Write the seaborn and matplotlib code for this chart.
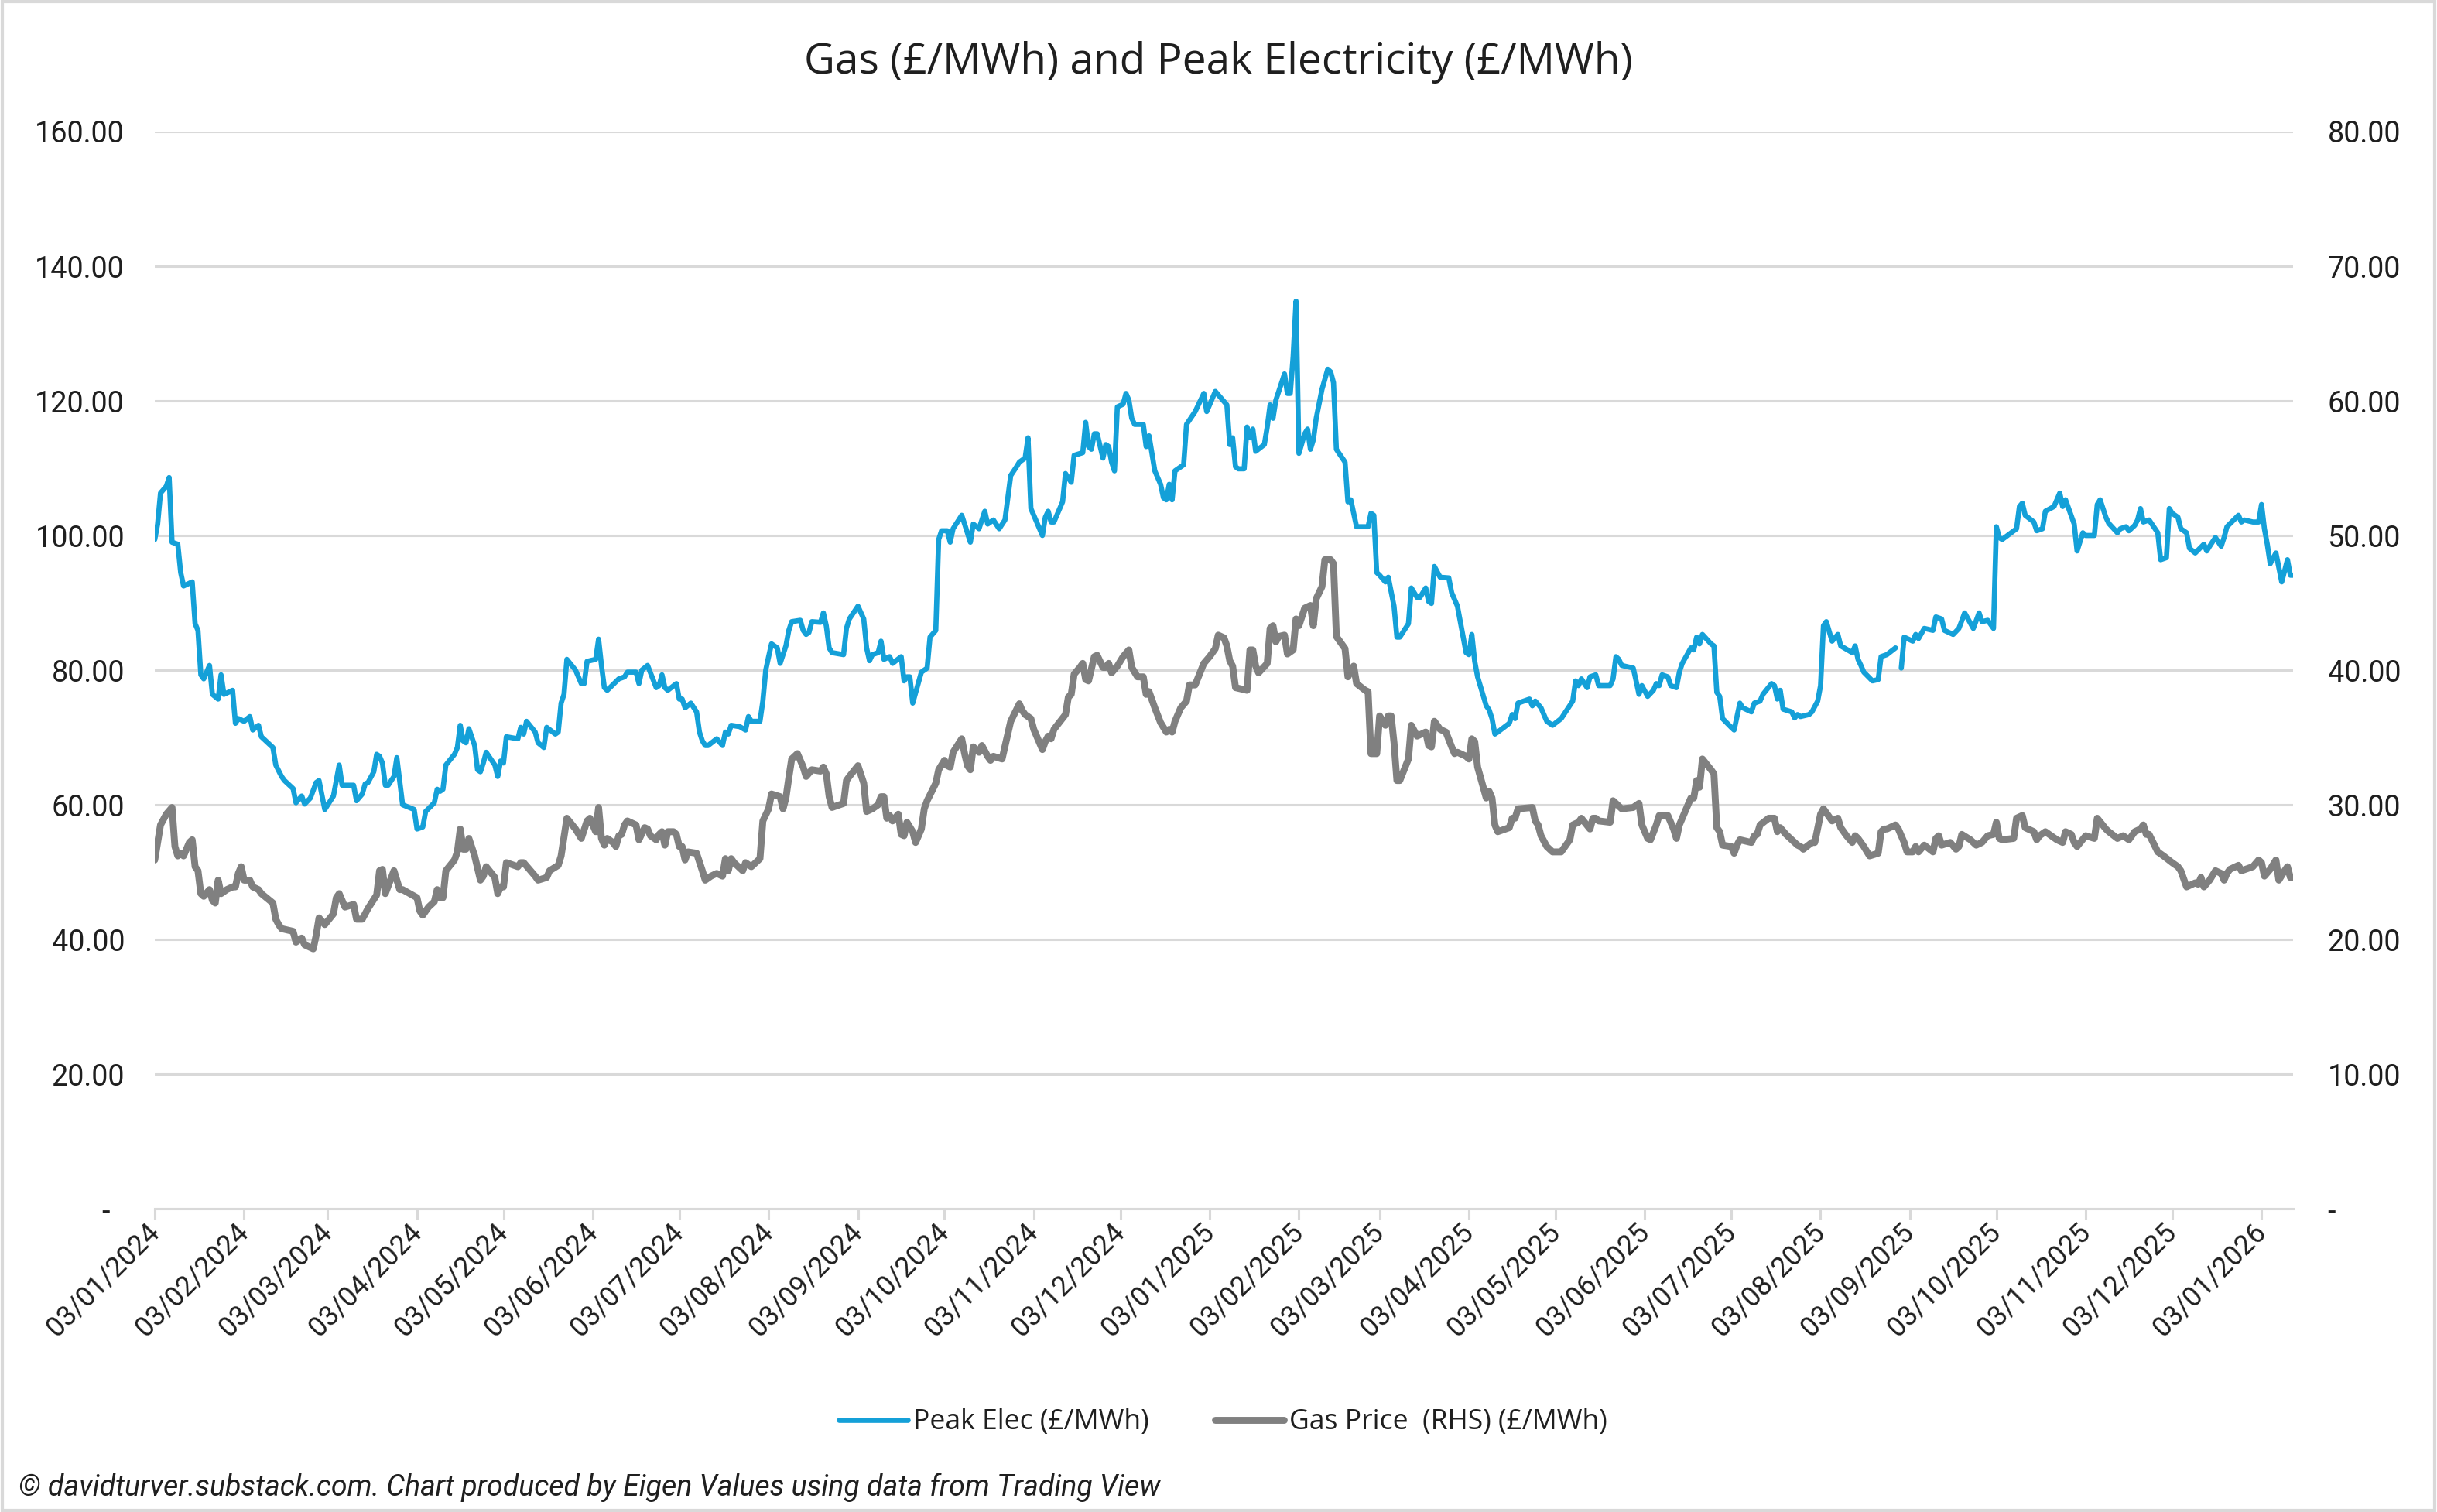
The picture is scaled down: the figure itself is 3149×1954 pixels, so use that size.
import pandas as pd
import matplotlib
matplotlib.use("Agg")
import matplotlib.pyplot as plt
import matplotlib.dates as mdates
from matplotlib.lines import Line2D
from matplotlib.patches import Rectangle
from matplotlib.ticker import FuncFormatter, MultipleLocator
import seaborn as sns

nan = float("nan")

# Series start date; days below are counted from it
start_date = "2024-01-03"

# Peak electricity (£/MWh) - left axis
elec_days = [
    0, 1, 2, 4, 5, 6, 8, 9, 10, 13, 14, 15, 16, 17, 19, 20, 22, 23, 24, 27,
    28, 29, 31, 33, 34, 36, 37, 41, 42, 44, 45, 48, 49, 51, 52, 54, 56, 57, 59, 62,
    64, 65, 69, 70, 72, 73,
    74, 76, 77, 78, 79, 80, 81, 83, 84, 86, 90, 91, 93, 94, 97, 98, 99, 100, 101, 104,
    105, 106, 107, 108, 109, 111, 112, 113, 114, 115, 118, 119, 120, 121, 122, 126, 127, 128, 129, 132,
    133, 135, 136, 139, 140, 141, 142, 143, 146, 148, 149, 150,
    153, 154, 155, 156, 157, 161, 163, 164, 167, 168, 169, 171, 174, 175, 176, 177, 178, 181, 182, 183,
    184, 186, 188, 189, 190, 191, 192, 195, 197, 198, 199, 200, 203, 205, 206, 207, 210, 211, 212, 213,
    214, 216, 217, 219, 220, 221, 224, 225,
    226, 227, 228, 231, 232, 233, 234, 235, 239, 240, 241, 244, 246, 247, 248, 249, 251, 252, 253, 255,
    256, 259, 260, 261, 262, 263, 266, 268, 269, 271, 272, 273, 275, 276, 277, 280, 281, 283, 284, 286,
    288, 289, 291, 293, 295, 297, 299, 300,
    302, 303, 304, 305, 308, 309, 310, 311, 312, 315, 316, 318, 319, 322, 323, 324, 325, 326, 327, 329,
    330, 331, 332, 333, 334, 336, 337, 338, 339, 340, 343, 344, 345, 347, 349, 350, 351, 352, 353, 354,
    357, 358, 361, 364, 365, 368, 372, 373, 374, 375,
    376, 378, 379, 380, 381, 382, 385, 386, 387, 388, 389, 392, 393, 394, 395, 396, 397, 399, 400, 401,
    402, 403, 405, 407, 408, 409, 410, 413, 414, 415, 417, 421, 422, 423, 424, 425, 427, 428, 430, 431,
    432, 435, 436, 438, 439, 441, 442, 443, 444, 446, 449, 450,
    452, 455, 456, 457, 458, 459, 462, 463, 464, 465, 466, 470, 471, 472, 473, 477, 478, 479, 481, 483,
    485, 488, 492, 493, 494, 495, 497, 498, 500, 501, 505, 506, 507, 508, 509, 513, 514, 515, 516, 518,
    520, 521, 522, 523, 525,
    526, 528, 529, 530, 533, 534, 535, 536, 537, 540, 541, 542, 543, 544, 547, 548, 550, 551, 554, 555,
    557, 558, 561, 562, 563, 564, 565, 568, 569, 570, 571, 574, 575, 577, 578, 579, 580, 582, 584, 585,
    589, 590, 591, 592, 593, 596, 598, 599,
    601, 604, 605, 606, 607, 610, 611, 612, 614, 617, 618, 620, 621, 624, 626, 628, 631, 633, 634, 636,
    638, 639, 640, 641, 646, 647, 648, 649, 652, 653, 655, 656, 659, 661, 662, 663, 666, 667, 669, 670,
    673, 674,
    675, 677, 678, 681, 682, 684, 685, 687, 688, 689, 690, 692, 695, 696, 698, 699, 700, 702, 703, 705,
    706, 708, 711, 712, 713, 715, 717, 718, 719, 723, 724, 725, 728, 730, 731, 732, 733, 734, 736, 738,
    740, 741, 742,
]
elec_values = [
    99.4, 101.7, 106.3, 107.3, 108.6, 99.0, 98.7, 94.5, 92.5, 93.1, 86.9, 85.9, 79.3, 78.7, 80.7, 76.4, 75.7, 79.3, 76.4, 77.0,
    72.1, 72.8, 72.4, 73.1, 71.1, 71.8, 70.1, 68.5, 65.9, 64.2, 63.6, 62.4, 60.3, 61.3, 60.1, 61.0, 63.3, 63.6, 59.3, 61.3,
    65.9, 62.9, 62.9, 60.6, 61.6, 63.1,
    63.3, 64.9, 67.5, 67.2, 66.2, 62.9, 62.9, 64.2, 67.0, 60.0, 59.3, 56.4, 56.7, 59.0, 60.3, 62.3, 62.0, 62.3, 65.9, 67.5,
    68.5, 71.8, 69.5, 69.2, 71.3, 68.8, 65.2, 64.9, 66.2, 67.8, 65.9, 64.2, 66.5, 66.2, 70.1, 69.8, 71.5, 70.5, 72.4, 70.8,
    69.2, 68.5, 71.5, 70.5, 70.8, 75.1, 76.4, 81.6, 80.0, 78.0, 78.0, 81.3,
    81.6, 84.6, 80.7, 77.4, 77.0, 78.7, 79.0, 79.7, 79.7, 78.0, 80.0, 80.7, 77.4, 77.7, 79.3, 77.4, 77.0, 78.0, 75.7, 75.7,
    74.4, 75.1, 73.8, 70.8, 69.5, 68.8, 68.8, 69.8, 68.8, 70.8, 70.5, 71.8, 71.6, 71.1, 73.1, 72.4, 72.4, 75.4, 80.0, 82.0,
    83.9, 83.3, 81.0, 83.6, 85.9, 87.2, 87.4, 85.9,
    85.3, 85.6, 87.2, 87.1, 88.5, 86.6, 83.3, 82.6, 82.3, 86.2, 87.6, 89.5, 87.6, 83.3, 81.4, 82.3, 82.6, 84.3, 81.6, 82.0,
    81.0, 82.0, 78.4, 79.0, 79.0, 75.1, 79.7, 80.3, 84.9, 85.9, 99.4, 100.7, 100.7, 99.0, 101.0, 103.0, 101.7, 99.0, 101.7, 101.0,
    103.6, 101.7, 102.3, 101.0, 102.3, 108.9, 110.2, 110.9,
    111.5, 114.5, 104.0, 103.0, 100.0, 102.7, 103.6, 102.0, 102.0, 105.0, 109.2, 107.9, 111.9, 112.3, 116.8, 113.2, 112.8, 115.1, 115.1, 111.5,
    113.5, 113.2, 110.9, 109.6, 119.1, 119.5, 121.1, 120.1, 117.4, 116.5, 116.5, 113.2, 114.8, 109.6, 107.6, 105.6, 105.3, 107.6, 105.3, 109.6,
    110.5, 116.5, 118.4, 121.1, 118.4, 121.4, 119.4, 113.5, 114.5, 110.2,
    109.9, 109.9, 116.1, 114.5, 115.8, 112.5, 113.5, 116.1, 119.4, 117.4, 120.1, 124.0, 121.1, 121.1, 126.6, 134.8, 112.2, 115.1, 115.8, 112.8,
    114.2, 117.4, 121.7, 124.7, 124.3, 122.7, 112.8, 110.9, 105.0, 105.3, 101.3, 101.3, 103.3, 103.0, 94.5, 94.1, 93.1, 93.8, 89.5, 84.9,
    84.9, 86.9, 92.2, 90.8, 90.8, 92.2, 90.2, 89.9, 95.4, 93.8, 93.7, 91.5,
    89.5, 82.6, 82.3, 85.3, 81.3, 79.0, 74.7, 74.1, 72.8, 70.5, 70.8, 72.1, 73.4, 72.8, 75.1, 75.7, 74.7, 75.4, 74.4, 72.4,
    71.8, 72.8, 75.4, 78.4, 77.7, 78.7, 77.4, 79.0, 79.3, 77.7, 77.7, 78.7, 82.0, 81.6, 80.7, 80.3, 78.4, 76.4, 77.7, 76.1,
    77.0, 78.0, 77.7, 79.3, 79.0,
    77.7, 77.4, 79.7, 81.0, 83.3, 83.0, 84.9, 83.9, 85.3, 83.9, 83.6, 76.7, 76.1, 72.8, 71.5, 71.1, 75.1, 74.4, 73.8, 75.1,
    75.4, 76.4, 78.0, 77.7, 75.7, 77.0, 74.2, 73.8, 72.9, 73.4, 73.1, 73.4, 73.8, 75.4, 77.7, 86.6, 87.2, 84.3, 85.3, 83.6,
    82.6, 83.6, 81.6, 80.7, 79.7, 78.4, 78.6, 82.0,
    82.3, 83.3, nan, 80.3, 84.9, 84.3, 85.3, 84.7, 86.2, 85.9, 87.9, 87.6, 85.9, 85.3, 86.2, 88.5, 86.2, 88.5, 87.2, 87.4,
    86.2, 101.3, 99.7, 99.4, 101.0, 104.3, 104.8, 103.0, 102.0, 100.7, 101.0, 103.6, 104.3, 106.3, 104.3, 105.3, 101.7, 97.7, 100.4, 100.0,
    100.0, 104.6,
    105.3, 102.7, 101.8, 100.4, 101.0, 101.3, 100.7, 101.5, 102.3, 104.0, 102.0, 102.3, 100.4, 96.4, 96.7, 104.0, 103.3, 102.7, 101.0, 100.4,
    98.1, 97.4, 98.7, 97.7, 98.4, 99.7, 98.4, 99.7, 101.3, 103.0, 102.0, 102.3, 102.0, 102.0, 104.6, 101.0, 98.7, 95.8, 97.4, 93.1,
    96.4, 94.1, 94.1,
]

# Gas price (£/MWh) - right axis
gas_days = [
    0, 1, 2, 4, 6, 7, 8, 9, 10, 12, 13, 14, 15, 16, 17, 19, 20, 21, 22, 23,
    25, 27, 28, 29, 30, 31, 33, 34, 36, 37, 41, 42, 43, 44, 48, 49, 51, 52, 55, 56,
    57, 59, 62, 63, 64, 66, 69, 70, 72,
    74, 77, 78, 79, 80, 83, 85, 86, 91, 92, 93, 95, 97, 98, 99, 100, 101, 104, 105, 106,
    107, 108, 109, 111, 113, 114, 115, 118, 119, 120, 121, 122, 126, 127, 128, 132, 133, 136, 137, 140,
    141, 143, 146, 148, 150,
    151, 153, 154, 155, 156, 157, 159, 160, 161, 162, 163, 164, 167, 168, 170, 171, 172, 174, 175, 176,
    177, 178, 180, 181, 182, 183, 184, 185, 188, 190, 191, 193, 195, 197, 198, 199, 200, 201, 204, 205,
    207, 210, 211, 213, 214, 217, 218, 219, 220, 221, 223, 225,
    226, 228, 231, 232, 233, 234, 235, 239, 240, 241, 244, 246, 247, 249, 251, 252, 253, 254, 255, 256,
    258, 259, 260, 261, 263, 264, 266, 267, 268, 271, 272, 274, 275, 276, 277, 280, 281, 282, 283, 284,
    286, 287, 289, 290, 291, 294, 297, 300,
    301, 302, 304, 305, 308, 309, 310, 311, 312, 316, 317, 318, 319, 321, 322, 323, 324, 326, 327, 329,
    330, 331, 332, 334, 336, 338, 339, 341, 343, 344, 345, 347, 349, 351, 352, 353, 354, 356, 358, 359,
    361, 364, 366, 368, 369, 371, 372, 373, 374, 375,
    379, 380, 381, 382, 383, 386, 387, 388, 389, 390, 392, 393, 395, 396, 397, 399, 401, 402, 403, 405,
    406, 408, 409, 410, 413, 414, 416, 417, 420, 421, 422, 424, 425, 427, 428, 429, 430, 431, 432, 435,
    436, 438, 441, 442, 443, 444, 446, 448, 450,
    451, 452, 455, 456, 457, 458, 459, 462, 463, 464, 465, 466, 470, 471, 472, 473, 478, 479, 480, 481,
    483, 485, 486, 488, 491, 492, 494, 495, 498, 499, 500, 501, 505, 506, 509, 513, 515, 516, 518, 519,
    521, 522, 525,
    527, 528, 529, 530, 533, 534, 535, 536, 537, 540, 541, 542, 543, 544, 547, 548, 549, 550, 554, 555,
    556, 557, 560, 562, 563, 564, 566, 569, 570, 571, 572, 575, 576, 578, 579, 582, 584, 585, 587, 589,
    590, 591, 593, 595, 598, 599, 600,
    601, 604, 605, 607, 608, 610, 611, 612, 614, 617, 618, 619, 620, 623, 625, 626, 627, 630, 632, 634,
    636, 638, 639, 640, 641, 645, 646, 648, 649, 652, 653, 654, 656, 660, 662, 663, 665, 666, 667, 670,
    673, 674,
    677, 678, 681, 683, 685, 686, 687, 689, 690, 691, 692, 695, 697, 700, 702, 703, 705, 708, 709, 710,
    711, 713, 715, 717, 718, 719, 720, 723, 724, 728, 730, 731, 732, 734, 736, 737, 739, 740, 741, 742,
]
gas_values = [
    25.9, 27.2, 28.5, 29.3, 29.8, 26.9, 26.2, 26.4, 26.2, 27.2, 27.4, 25.4, 25.1, 23.4, 23.2, 23.7, 22.9, 22.7, 24.4, 23.4,
    23.7, 23.9, 23.9, 24.9, 25.4, 24.4, 24.4, 23.9, 23.7, 23.4, 22.7, 21.5, 21.1, 20.8, 20.6, 19.8, 20.1, 19.6, 19.3, 20.3,
    21.6, 21.1, 21.9, 23.1, 23.4, 22.4, 22.6, 21.5, 21.5,
    22.3, 23.3, 25.1, 25.2, 23.4, 25.1, 23.7, 23.7, 23.1, 22.1, 21.8, 22.4, 22.8, 23.7, 23.1, 23.1, 25.1, 25.9, 26.5, 28.2,
    26.7, 26.7, 27.5, 26.2, 24.4, 24.7, 25.4, 24.6, 23.4, 23.9, 23.9, 25.7, 25.4, 25.7, 25.7, 24.7, 24.4, 24.6, 25.1, 25.5,
    26.2, 29.0, 28.2, 27.5, 28.8,
    29.0, 28.0, 29.8, 27.5, 27.0, 27.5, 27.2, 26.9, 27.7, 27.8, 28.5, 28.8, 28.5, 27.4, 28.3, 28.2, 27.7, 27.4, 27.8, 28.0,
    27.0, 28.0, 28.0, 27.8, 26.9, 26.9, 25.9, 26.5, 26.4, 25.1, 24.4, 24.7, 24.9, 24.7, 26.0, 25.1, 26.0, 25.7, 25.1, 25.7,
    25.4, 26.0, 28.8, 29.7, 30.8, 30.6, 29.7, 30.5, 32.0, 33.4, 33.8, 32.8,
    32.1, 32.6, 32.5, 32.8, 32.3, 30.6, 29.8, 30.1, 31.8, 32.1, 32.9, 31.6, 29.5, 29.7, 30.0, 30.6, 30.6, 29.0, 29.2, 28.8,
    29.3, 27.8, 27.7, 28.7, 28.0, 27.2, 28.2, 29.7, 30.3, 31.6, 32.6, 33.3, 32.9, 32.8, 33.9, 34.9, 33.8, 32.9, 32.6, 34.3,
    33.9, 34.4, 33.6, 33.3, 33.6, 33.4, 36.2, 37.5,
    37.0, 36.7, 36.4, 35.6, 34.1, 34.7, 35.1, 34.9, 35.6, 36.7, 38.0, 38.2, 39.7, 40.2, 40.5, 39.3, 39.2, 41.0, 41.1, 40.2,
    40.2, 40.5, 39.8, 40.3, 41.0, 41.5, 40.2, 39.5, 39.5, 38.2, 38.4, 37.2, 36.1, 35.4, 35.6, 35.4, 36.2, 37.2, 37.7, 38.9,
    38.9, 40.5, 41.0, 41.6, 42.6, 42.4, 41.8, 40.7, 40.3, 38.7,
    38.5, 41.5, 41.5, 40.3, 39.8, 40.5, 43.1, 43.3, 42.1, 42.5, 42.6, 41.2, 41.5, 43.8, 43.3, 44.6, 44.8, 43.3, 45.3, 46.2,
    48.2, 48.2, 47.9, 42.5, 41.6, 39.5, 40.3, 39.0, 38.5, 38.4, 33.8, 33.8, 36.6, 35.9, 36.6, 36.6, 34.6, 31.8, 31.8, 33.4,
    35.9, 35.1, 35.4, 34.4, 34.3, 36.2, 35.6, 35.4, 34.3,
    33.8, 33.9, 33.6, 33.4, 34.9, 34.7, 32.8, 30.5, 31.0, 30.5, 28.5, 28.0, 28.3, 29.0, 29.0, 29.7, 29.8, 28.8, 28.5, 27.7,
    26.9, 26.5, 26.5, 26.5, 27.4, 28.5, 28.7, 29.0, 28.2, 29.0, 29.0, 28.8, 28.7, 30.3, 29.7, 29.8, 30.1, 28.5, 27.5, 27.4,
    28.5, 29.2, 29.2,
    28.2, 27.5, 28.5, 29.0, 30.5, 30.5, 31.8, 31.3, 33.4, 32.6, 32.3, 28.3, 28.0, 27.0, 26.9, 26.4, 27.0, 27.4, 27.2, 27.7,
    27.8, 28.5, 29.0, 29.0, 28.0, 28.3, 27.8, 27.2, 27.0, 26.9, 26.7, 27.2, 27.2, 29.3, 29.7, 28.8, 29.0, 28.3, 27.7, 27.2,
    27.7, 27.5, 26.9, 26.2, 26.4, 28.0, 28.2,
    28.2, 28.5, 28.2, 27.2, 26.5, 26.5, 26.9, 26.5, 27.0, 26.5, 27.5, 27.7, 27.0, 27.2, 26.7, 26.9, 27.8, 27.4, 27.0, 27.2,
    27.7, 27.8, 28.7, 27.5, 27.4, 27.5, 29.0, 29.2, 28.3, 28.0, 27.4, 27.7, 28.0, 27.4, 27.2, 28.0, 27.8, 27.2, 26.9, 27.7,
    27.5, 29.0,
    28.2, 28.0, 27.5, 27.7, 27.4, 27.7, 28.0, 28.2, 28.5, 27.8, 27.8, 26.5, 26.2, 25.7, 25.4, 25.1, 23.9, 24.2, 24.1, 24.6,
    23.9, 24.4, 25.1, 24.9, 24.4, 24.9, 25.2, 25.5, 25.1, 25.4, 25.9, 25.7, 24.7, 25.2, 25.9, 24.4, 25.1, 25.4, 24.6, 24.6,
]

title = "Gas (£/MWh) and Peak Electricity (£/MWh)"
elec_label = "Peak Elec (£/MWh)"
gas_label = "Gas Price  (RHS) (£/MWh)"
footer = "© davidturver.substack.com. Chart produced by Eigen Values using data from Trading View"

blue = "#14A0D8"
grey = "#808080"
grid_col = "#D9D9D9"
text_col = "#1F1F1F"
elec_lw = 2.4
gas_lw = 3.2

start = pd.Timestamp(start_date)
elec = pd.DataFrame({"date": start + pd.to_timedelta(elec_days, unit="D"), "price": elec_values})
elec["segment"] = elec["price"].isna().cumsum()   # break the line where data is missing
elec = elec.dropna()
gas = pd.DataFrame({"date": start + pd.to_timedelta(gas_days, unit="D"), "price": gas_values})

sns.set_theme(style="white")
plt.rcParams["font.family"] = ["Roboto", "DejaVu Sans"]
head_font = ["Open Sans", "DejaVu Sans"]

fig = plt.figure(figsize=(15.745, 9.77), dpi=200)
ax = fig.add_axes([0.0635, 0.2006, 0.8775, 0.7124])
ax2 = ax.twinx()

sns.lineplot(data=elec, x="date", y="price", units="segment", estimator=None,
             color=blue, linewidth=elec_lw, ax=ax)
sns.lineplot(data=gas, x="date", y="price", estimator=None,
             color=grey, linewidth=gas_lw, ax=ax2)

ax.set_xlim(elec["date"].min(), elec["date"].max())
ax.set_ylim(0, 160)
ax2.set_ylim(0, 80)
ax.yaxis.set_major_locator(MultipleLocator(20))
ax2.yaxis.set_major_locator(MultipleLocator(10))
ax.yaxis.set_major_formatter(FuncFormatter(lambda v, p: "-  " if abs(v) < 1e-9 else f"{v:.2f}"))
ax2.yaxis.set_major_formatter(FuncFormatter(lambda v, p: "-" if abs(v) < 1e-9 else f"{v:.2f}"))

ax.xaxis.set_major_locator(mdates.MonthLocator(bymonthday=3))
ax.xaxis.set_major_formatter(mdates.DateFormatter("%d/%m/%Y"))

for a in (ax, ax2):
    a.set_xlabel("")
    a.set_ylabel("")
    for side in ("top", "left", "right"):
        a.spines[side].set_visible(False)
ax2.spines["bottom"].set_visible(False)
ax.spines["bottom"].set_color(grid_col)
ax.spines["bottom"].set_linewidth(1.1)

ax.set_axisbelow(True)
ax.grid(axis="y", color=grid_col, linewidth=1.1)
ax.grid(axis="x", visible=False)
ax2.grid(False)

ax.tick_params(axis="y", left=False, length=0, pad=14, labelsize=13.6, labelcolor=text_col)
ax2.tick_params(axis="y", right=False, length=0, pad=16, labelsize=13.6, labelcolor=text_col)
ax.tick_params(axis="x", bottom=True, direction="out", length=5, width=1.1, color=grid_col,
               pad=4, labelsize=12.9, labelcolor=text_col)
plt.setp(ax.get_xticklabels(), rotation=45, ha="right", va="center", rotation_mode="anchor")

fig.text(0.5, 1 - 80 / 1954, title, ha="center", va="center", fontsize=19.8,
         family=head_font, color=text_col)

handles = [Line2D([], [], color=blue, linewidth=elec_lw), Line2D([], [], color=grey, linewidth=gas_lw)]
fig.legend(handles, [elec_label, gas_label], loc="center", bbox_to_anchor=(0.502, 1 - 1838 / 1954),
           ncol=2, frameon=False, prop={"family": head_font, "size": 12.8},
           handlelength=2.5, handletextpad=0.2, columnspacing=2.4, labelcolor=text_col)

fig.text(24 / 3149, 1 - 1922 / 1954, footer, ha="left", va="center", fontsize=13.5,
         style="italic", color=text_col)

fig.add_artist(Rectangle((0.0008, 0.0012), 0.9984, 0.9976, transform=fig.transFigure,
                         fill=False, edgecolor=grid_col, linewidth=1.5))

fig.savefig("out.png", dpi=200)
